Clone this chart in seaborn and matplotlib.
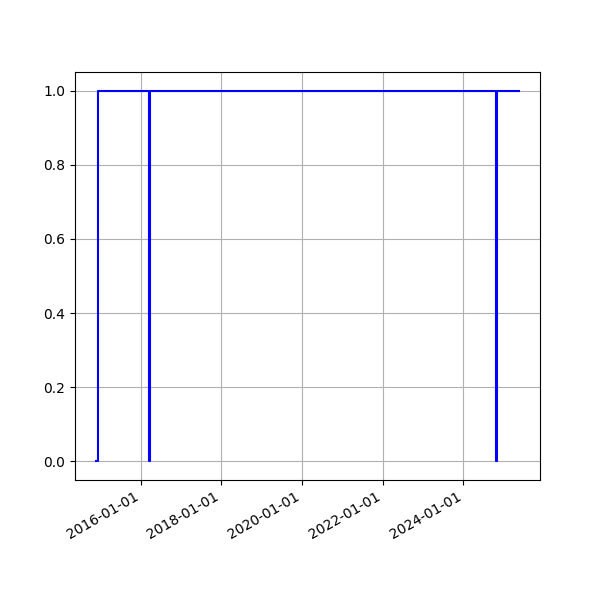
import pandas as pd
import matplotlib
matplotlib.use('Agg')
import matplotlib.pyplot as plt
import matplotlib.dates as mdates
import seaborn as sns

# status series (0 = down, 1 = up)
dates = ['2014-11-24', '2014-12-15', '2016-03-19', '2016-03-28',
         '2024-10-20', '2024-10-29', '2025-05-18']
values = [0, 1, 0, 1, 0, 1, 1]

df = pd.DataFrame({'date': pd.to_datetime(dates), 'value': values})

fig, ax = plt.subplots(figsize=(6, 6), dpi=100)
sns.lineplot(data=df, x='date', y='value', ax=ax, color='blue',
             drawstyle='steps-post', linewidth=1.5)
ax.set_xlabel('')
ax.set_ylabel('')
ax.grid(True)
ax.xaxis.set_major_locator(mdates.YearLocator(2))
ax.xaxis.set_major_formatter(mdates.DateFormatter('%Y-%m-%d'))
fig.autofmt_xdate()
fig.savefig('out.png')
